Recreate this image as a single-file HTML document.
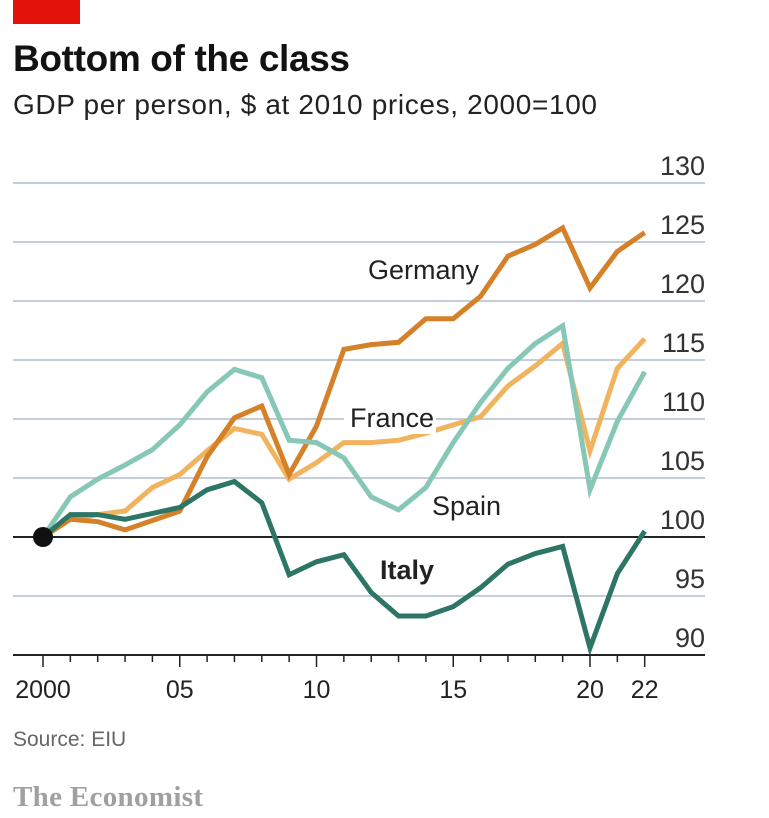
<!DOCTYPE html>
<html><head><meta charset="utf-8"><style>
body{margin:0;background:#fff;width:769px;height:813px;overflow:hidden;font-family:"Liberation Sans",sans-serif}
</style></head><body>
<svg width="769" height="813">
<rect x="13" y="0" width="67" height="24" fill="#e3120b"/>
<text x="13" y="71" font-size="37" font-weight="bold" fill="#121212" textLength="337">Bottom of the class</text>
<text x="13" y="114" font-size="28" fill="#222" textLength="584">GDP per person, $ at 2010 prices, 2000=100</text>
<g id="grid"></g><g id="lines"></g><g id="xaxis"></g>
<text x="13" y="746" font-size="21" fill="#666">Source: EIU</text>
<text x="13" y="806" font-size="29" font-weight="bold" fill="#a0a0a0" font-family="Liberation Serif, serif" textLength="190">The Economist</text>
</svg>
<script>
const years=[2000,2001,2002,2003,2004,2005,2006,2007,2008,2009,2010,2011,2012,2013,2014,2015,2016,2017,2018,2019,2020,2021,2022];
const germany=[100,101.5,101.3,100.6,101.4,102.2,106.8,110.1,111.1,105.3,109.4,115.9,116.3,116.5,118.5,118.5,120.4,123.8,124.8,126.2,121.1,124.2,125.8];
const france=[100,101.5,101.9,102.2,104.2,105.3,107.3,109.2,108.7,104.9,106.3,108.0,108.0,108.2,108.8,109.5,110.2,112.8,114.5,116.4,107.3,114.3,116.8];
const spain=[100,103.4,104.9,106.1,107.4,109.5,112.3,114.2,113.5,108.2,108.0,106.7,103.4,102.3,104.2,108.0,111.4,114.3,116.4,117.9,104.0,109.8,114.0];
const italy=[100,101.9,101.9,101.5,102.0,102.5,104.0,104.7,102.9,96.8,97.9,98.5,95.3,93.3,93.3,94.1,95.7,97.7,98.6,99.2,90.6,96.9,100.5];
const yTicks=[130,125,120,115,110,105,100,95,90];
const xTickLabels=[[2000,"2000"],[2005,"05"],[2010,"10"],[2015,"15"],[2020,"20"],[2022,"22"]];
const NS="http://www.w3.org/2000/svg";
const X=y=>43+(y-2000)*27.35;
const Y=v=>537-(v-100)*11.8;
function mk(t,a,p){const e=document.createElementNS(NS,t);for(const k in a)e.setAttribute(k,a[k]);p.appendChild(e);return e;}
const grid=document.getElementById('grid');
yTicks.forEach(v=>{
  if(v!==100&&v!==90){const l=mk('line',{x1:13,x2:705,y1:Y(v),y2:Y(v),stroke:'#c5ced8','stroke-width':2},grid);
  
  }
  const t=mk('text',{x:705,y:Y(v)-8,'text-anchor':'end','font-size':27,fill:'#333'},grid);t.textContent=v;
  
  
});
const base=mk('line',{x1:13,x2:705,y1:Y(100),y2:Y(100),stroke:'#222','stroke-width':2},grid);


const xa=document.getElementById('xaxis');
const ax=mk('line',{x1:13,x2:705,y1:Y(90),y2:Y(90),stroke:'#222','stroke-width':2},xa);


years.forEach(y=>{const major=(y%5===0)||y===2022;const tk=mk('line',{x1:X(y),x2:X(y),y1:Y(90),y2:Y(90)+(major?12:7),stroke:'#222','stroke-width':1.5},xa);

});
xTickLabels.forEach(([y,s])=>{const t=mk('text',{x:X(y),y:Y(90)+43,'text-anchor':'middle','font-size':25,fill:'#222'},xa);t.textContent=s;

});
const lines=document.getElementById('lines');
function series(d,c,n){const p=mk('polyline',{points:d.map((v,i)=>X(years[i])+','+Y(v)).join(' '),fill:'none',stroke:c,'stroke-width':5,'stroke-linejoin':'miter'},lines);

}
series(france,'#f2b35e','france-line');
series(germany,'#d4812a','germany-line');
series(spain,'#86c7b6','spain-line');
series(italy,'#2d7565','italy-line');
const dot=mk('circle',{cx:X(2000),cy:Y(100),r:10,fill:'#111'},lines);


function label(txt,x,y,bold,n,bg){if(bg){const r=mk('rect',{x:x-6,y:y-25,width:bg,height:32,fill:'#fff'},lines);

}
const t=mk('text',{x:x,y:y,'font-size':27,fill:'#222','font-weight':bold?'bold':'normal'},lines);t.textContent=txt;

}
label('Germany',368,279,false,'germany-label');
label('France',350,427,false,'france-label',92);
label('Spain',432,515,false,'spain-label');
label('Italy',380,579,true,'italy-label');
</script>
</body></html>
